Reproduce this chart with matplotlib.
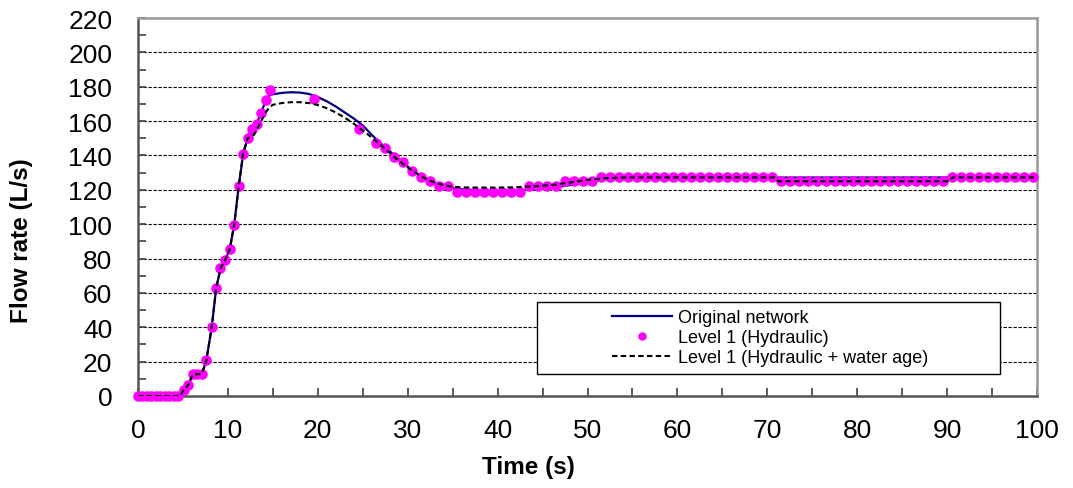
import matplotlib
matplotlib.use("Agg")
import matplotlib.pyplot as plt
from matplotlib.patches import Rectangle
from matplotlib.ticker import MultipleLocator

plt.rcParams['font.family'] = ['Liberation Sans', 'DejaVu Sans']

# Original network (solid navy line)
t_orig = [0, 4.7, 5.1, 5.6, 6.1, 7.1, 7.6, 8.2, 8.7, 9.2, 9.7, 10.2, 10.7, 11.2, 11.7,
          12.2, 12.7, 13.2, 13.7, 14.2, 14.6, 15, 16, 17, 18, 19, 20, 21, 22, 23, 24,
          25, 26, 27, 28, 29, 30, 31, 32, 33, 34, 35, 36, 38, 40, 42, 44, 46, 48, 50,
          52, 54, 56, 100]
q_orig = [0, 0, 3.6, 6.5, 12.7, 12.7, 20.7, 40, 63, 74.5, 79.3, 85.3, 99.6, 122, 141,
          150.4, 155.6, 158.5, 164.8, 172, 175, 175.6, 176.4, 176.8, 176.6, 175.8, 174,
          171.5, 168.5, 165, 161.5, 157.5, 152, 147, 142.5, 138, 133.5, 129.5, 126.5,
          124, 122.3, 121, 120.3, 119.7, 119.5, 119.6, 120.2, 121.2, 122.7, 124.5,
          126, 126.8, 127.1, 127.2]

# Level 1 (Hydraulic + water age) (dashed black line)
t_age = [0, 4.7, 5.1, 5.6, 6.1, 7.1, 7.6, 8.2, 8.7, 9.2, 9.7, 10.2, 10.7, 11.2, 11.7,
         12.2, 12.9, 13.7, 14.2, 14.6, 15, 16, 17, 18, 19, 20, 21, 22, 23, 24, 25, 26,
         27, 28, 29, 30, 31, 32, 33, 34, 35, 36, 38, 40, 42, 44, 46, 48, 50, 52, 54,
         70.8, 71.2, 90.2, 90.6, 100]
q_age = [0, 0, 3.6, 6.5, 12.7, 12.7, 20.7, 40, 63, 74.5, 79.3, 85.3, 99.6, 122, 141,
         150, 152, 160, 165, 168, 169.5, 170.5, 171, 171, 170.5, 169.3, 167.5, 165, 162,
         158.5, 154.5, 150.5, 146, 141.5, 137, 133, 129.5, 126.5, 124.2, 122.7, 121.8,
         121.4, 121.3, 121.3, 121.5, 122, 122.8, 124.2, 125.8, 126.8, 127.2,
         127.2, 125, 125, 127.2, 127.2]

# Level 1 (Hydraulic) (magenta dots)
t_hyd = [0, 0.5, 1, 1.5, 2, 2.5, 3, 3.5, 4, 4.5, 5.1, 5.6, 6.1, 6.6, 7.1, 7.6, 8.2, 8.7,
         9.1, 9.7, 10.2, 10.7, 11.2, 11.7, 12.2, 12.7, 13.2, 13.7, 14.2, 14.7, 19.6, 24.6,
         26.5, 27.5, 28.5, 29.5, 30.5, 31.5, 32.5, 33.5, 34.5, 35.5, 36.5, 37.5, 38.5,
         39.5, 40.5, 41.5, 42.5, 43.5, 44.5, 45.5, 46.5, 47.5, 48.5, 49.5, 50.5, 51.5,
         52.5, 53.5, 54.5, 55.5, 56.5, 57.5, 58.5, 59.5, 60.5, 61.5, 62.5, 63.5, 64.5,
         65.5, 66.5, 67.5, 68.5, 69.5, 70.5, 71.5, 72.5, 73.5, 74.5, 75.5, 76.5, 77.5,
         78.5, 79.5, 80.5, 81.5, 82.5, 83.5, 84.5, 85.5, 86.5, 87.5, 88.5, 89.5, 90.5,
         91.5, 92.5, 93.5, 94.5, 95.5, 96.5, 97.5, 98.5, 99.5]
q_hyd = [0, 0, 0, 0, 0, 0, 0, 0, 0, 0, 3.6, 6.5, 12.7, 12.7, 12.7, 20.7, 40, 63,
         74.5, 79.3, 85.3, 99.6, 122, 141, 150.4, 155.6, 158.5, 164.8, 172.5, 178, 172.7, 155.6,
         147.5, 144.6, 139, 136.2, 130.7, 127.2, 124.9, 122.2, 122.2, 119, 119, 119, 119,
         119, 119, 119, 119, 122.2, 122.2, 122.2, 122.2, 125.3, 125.3, 125.3, 125.3, 127.2,
         127.2, 127.2, 127.2, 127.2, 127.2, 127.2, 127.2, 127.2, 127.2, 127.2, 127.2, 127.2, 127.2,
         127.2, 127.2, 127.2, 127.2, 127.2, 127.2, 124.9, 124.9, 124.9, 124.9, 124.9, 124.9, 124.9,
         124.9, 124.9, 124.9, 124.9, 124.9, 124.9, 124.9, 124.9, 124.9, 124.9, 124.9, 124.9, 127.2,
         127.2, 127.2, 127.2, 127.2, 127.2, 127.2, 127.2, 127.2, 127.2]

fig = plt.figure(figsize=(10.73, 4.89), dpi=100)
ax = fig.add_axes([138 / 1073, 1 - 397 / 489, 899 / 1073, 378 / 489])

ax.plot(t_orig, q_orig, color='#000080', lw=1.6, label='Original network', zorder=3)
ax.plot(t_hyd, q_hyd, 'o', color='#FF00FF', ms=7.6, mec='none', clip_on=False,
        label='Level 1 (Hydraulic)', zorder=4)
ax.plot(t_age, q_age, color='black', lw=1.5, ls=(0, (2.6, 1.6)),
        label='Level 1 (Hydraulic + water age)', zorder=5)

ax.set_xlim(0, 100)
ax.set_ylim(0, 220)
ax.xaxis.set_major_locator(MultipleLocator(10))
ax.xaxis.set_minor_locator(MultipleLocator(5))
ax.yaxis.set_major_locator(MultipleLocator(20))
ax.yaxis.set_minor_locator(MultipleLocator(10))

ax.tick_params(axis='both', which='both', direction='in', length=6, width=1.2,
               color='#404040', labelsize=19)
ax.tick_params(axis='y', which='major', pad=18.5)
ax.tick_params(axis='x', which='major', pad=16)

# dashed grid at the major y ticks (not on the frame)
for yv in range(20, 220, 20):
    ax.axhline(yv, color='black', lw=0.8, ls=(0, (3, 1.5)), zorder=1)

for side in ['left', 'bottom']:
    ax.spines[side].set_color('#555555')
    ax.spines[side].set_linewidth(1.8)
for side in ['top', 'right']:
    ax.spines[side].set_color('#999999')
    ax.spines[side].set_linewidth(1.8)

ax.set_xlabel('Time (s)', fontsize=17.5, fontweight='bold')
ax.set_ylabel('Flow rate (L/s)', fontsize=17.5, fontweight='bold')
ax.xaxis.set_label_coords(0.434, -0.155)
ax.yaxis.set_label_coords(-0.117, 0.413)

# legend box
ax.add_patch(Rectangle((0.4438, 0.0582), 0.515, 0.1905, transform=ax.transAxes,
                       facecolor='white', edgecolor='black', lw=1.0, zorder=6))
handles, labels = ax.get_legend_handles_labels()
leg = ax.legend(handles, labels, loc='upper left', bbox_to_anchor=(612 / 1073, 1 - 310 / 489),
                bbox_transform=fig.transFigure, frameon=False, fontsize=13,
                handlelength=3.3, handletextpad=0.35, labelspacing=0.17,
                borderpad=0, borderaxespad=0, markerscale=0.8)
leg.set_zorder(7)

fig.savefig('out.png', dpi=100)
